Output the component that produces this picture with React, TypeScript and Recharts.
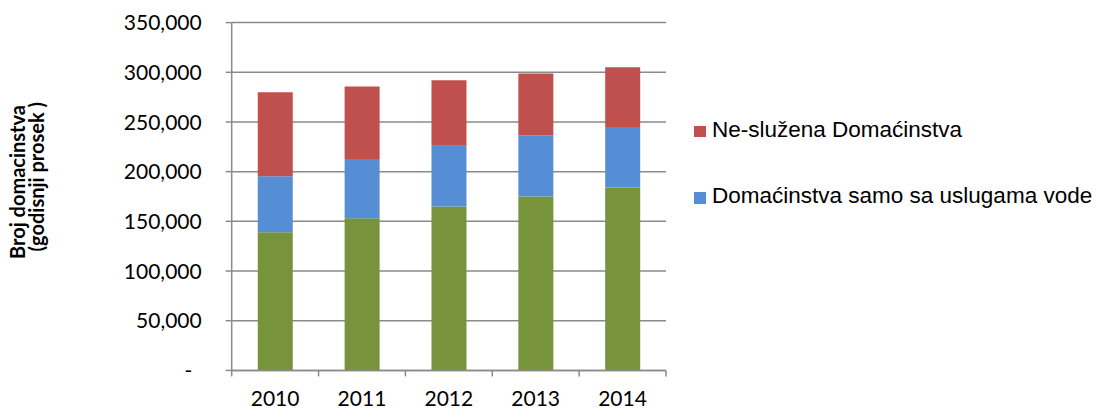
import React from "react";
import { BarChart, Bar, XAxis, YAxis, CartesianGrid, Legend } from "recharts";

const years = ["2010", "2011", "2012", "2013", "2014"];
// bottom segment (green, not listed in the legend)
const servedFull = [139000, 153000, 165000, 175000, 184000];
// middle segment (blue)
const waterOnly = [56500, 59700, 61000, 61300, 61000];
// top segment (red)
const unserved = [84500, 73000, 66000, 62500, 60000];
const yTicks = [0, 50000, 100000, 150000, 200000, 250000, 300000, 350000];

const seriesNames = {
  served: "Domaćinstva sa vodom i kanalizacijom",
  water: "Domaćinstva samo sa uslugama vode",
  unserved: "Ne-služena Domaćinstva",
};

const colors = {
  served: "#77933C",
  water: "#558ED5",
  unserved: "#C0504D",
  grid: "#8a8a8a",
};

const data = years.map((year, i) => ({
  year,
  served: servedFull[i],
  water: waterOnly[i],
  unserved: unserved[i],
}));

const CHART_W = 1096;
const CHART_H = 410;
const PLOT_LEFT = 231.7;
const PLOT_RIGHT = 666;
const BAND = (PLOT_RIGHT - PLOT_LEFT) / years.length;

const tickFont = "Lato, 'Open Sans', sans-serif";

const YTick = (props: any) => {
  const { x, y, payload } = props;
  const v = payload.value as number;
  const label = v === 0 ? "-" : v.toLocaleString("en-US");
  return (
    <text
      x={v === 0 ? x - 9.5 : x}
      y={y}
      dy="0.36em"
      textAnchor="end"
      fontFamily={tickFont}
      fontSize={21}
      fill="#000"
    >
      {label}
    </text>
  );
};

const XTick = (props: any) => {
  const { x, y, payload, index } = props;
  const left = x - BAND / 2;
  const right = x + BAND / 2;
  return (
    <g>
      <line x1={left} y1={y} x2={left} y2={y + 6} stroke={colors.grid} strokeWidth={1.5} />
      {index === years.length - 1 && (
        <line x1={right} y1={y} x2={right} y2={y + 6} stroke={colors.grid} strokeWidth={1.5} />
      )}
      <text
        x={x}
        y={y + 36}
        textAnchor="middle"
        fontFamily={tickFont}
        fontSize={21}
        fill="#000"
      >
        {payload.value}
      </text>
    </g>
  );
};

const legendItems = [
  { name: seriesNames.unserved, color: colors.unserved },
  { name: seriesNames.water, color: colors.water },
];

const LegendBox = () => (
  <div style={{ position: "relative", width: 410, height: 110 }}>
    {legendItems.map((item, i) => (
      <div
        key={item.name}
        style={{
          position: "absolute",
          left: 0,
          top: i * 66.3,
          height: 22,
          whiteSpace: "nowrap",
        }}
      >
        <span
          style={{
            position: "absolute",
            left: 0,
            top: 7.2,
            width: 11.5,
            height: 11.5,
            background: item.color,
          }}
        />
        <span
          style={{
            position: "absolute",
            left: 18,
            top: 0,
            fontFamily: "'Liberation Sans', Arial, sans-serif",
            fontSize: 22.5,
            lineHeight: "22px",
            color: "#000",
          }}
        >
          {item.name}
        </span>
      </div>
    ))}
  </div>
);

const titleStyle = {
  fontFamily: tickFont,
  fontWeight: 700,
  fontSize: 20,
  fill: "#000",
};

const AxisTitle = () => (
  <g>
    <text transform="translate(24.5,182) rotate(-90)" textAnchor="middle" style={titleStyle}>
      Broj domacinstva
    </text>
    <text transform="translate(43.5,176.7) rotate(-90)" textAnchor="middle" style={titleStyle}>
      (godisnji prosek )
    </text>
  </g>
);

export default function App() {
  return (
    <div style={{ position: "absolute", left: 0, top: 0, width: CHART_W, height: CHART_H, background: "#fff" }}>
      <BarChart
        width={CHART_W}
        height={CHART_H}
        data={data}
        margin={{ top: 22.6, right: CHART_W - PLOT_RIGHT, bottom: 0, left: 0 }}
        barCategoryGap="30%"
      >
        <CartesianGrid vertical={false} stroke={colors.grid} strokeWidth={1.5} />
        <XAxis
          dataKey="year"
          height={CHART_H - 370.4}
          tickSize={0}
          tickMargin={0}
          tickLine={false}
          axisLine={{ stroke: colors.grid, strokeWidth: 1.5 }}
          tick={<XTick />}
          interval={0}
        />
        <YAxis
          width={PLOT_LEFT}
          domain={[0, 350000]}
          ticks={yTicks}
          interval={0}
          tickSize={6}
          tickMargin={24}
          axisLine={{ stroke: colors.grid, strokeWidth: 1.5 }}
          tickLine={{ stroke: colors.grid, strokeWidth: 1.5 }}
          tick={<YTick />}
          label={<AxisTitle />}
        />
        <Legend
          layout="horizontal"
          align="center"
          verticalAlign="middle"
          content={() => <LegendBox />}
          wrapperStyle={{ left: 694, top: 118.8, width: 410, height: 110 }}
        />
        <Bar dataKey="served" name={seriesNames.served} stackId="a" fill={colors.served} isAnimationActive={false} />
        <Bar dataKey="water" name={seriesNames.water} stackId="a" fill={colors.water} isAnimationActive={false} />
        <Bar dataKey="unserved" name={seriesNames.unserved} stackId="a" fill={colors.unserved} isAnimationActive={false} />
      </BarChart>
    </div>
  );
}
